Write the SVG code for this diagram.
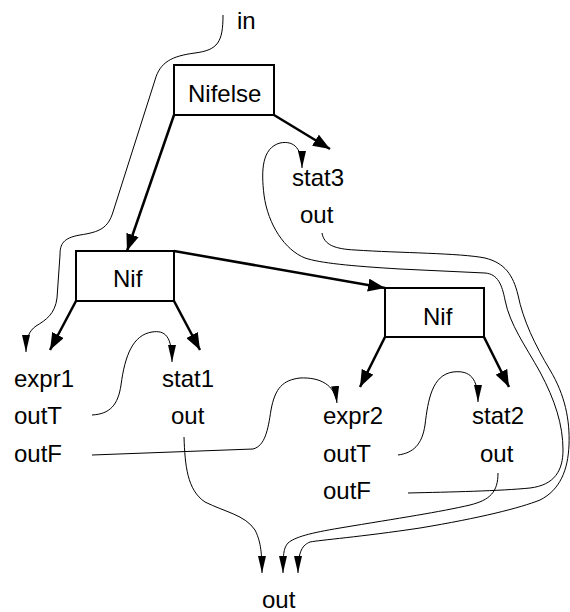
<svg xmlns="http://www.w3.org/2000/svg" width="570" height="612" viewBox="0 0 570 612">
<style>
text{font-family:"Liberation Sans",Arial,sans-serif;font-size:24px;fill:#000}
.box{fill:#fff;stroke:#000;stroke-width:2}
.bold{fill:none;stroke:#000;stroke-width:2.5;marker-end:url(#big)}
.thin{fill:none;stroke:#000;stroke-width:1}
.thinA{fill:none;stroke:#000;stroke-width:1;marker-end:url(#small)}
</style>
<defs>
<marker id="big" markerUnits="userSpaceOnUse" markerWidth="18" markerHeight="13" refX="17" refY="6.5" orient="auto" viewBox="0 0 18 13"><path d="M0,0 L17,6.5 L0,13 z" fill="#000"/></marker>
<marker id="small" markerUnits="userSpaceOnUse" markerWidth="18" markerHeight="9" refX="17" refY="4.5" orient="auto" viewBox="0 0 18 9"><path d="M0,0.5 L17,4.5 L0,8.5 z" fill="#000"/></marker>
</defs>
<rect width="570" height="612" fill="#fff"/>
<g id="connectors">
<path class="thinA" d="M223,15 C223,42 218,50 195,53 C172,56 160,62 155,80 L113,212 C108,228 100,232 80,235 C63,238 60,244 60,255 L57,298 C55,314 46,320 36,326 C29,331 26,338 26,352"/>
<path class="bold" d="M174,115 L127,251"/>
<path class="bold" d="M274,115 L330,149"/>
<path class="thinA" d="M408,493 C450,492 500,491 530,488 C555,485 563,470 563,450 C563,425 555,400 540,372 C525,345 510,325 505,300 C502,285 498,274 485,273 L400,269 C350,266 320,263 305,258 C285,250 268,225 264,195 C261,170 262,148 280,143 C295,140 302,150 302,168"/>
<path class="thinA" d="M322,233 C324,245 335,249 355,250 C400,253 460,253 485,258 C505,263 513,275 518,295 C523,320 535,345 550,370 C565,395 570,420 569,445 C568,470 560,490 540,500 C520,508 480,518 420,528 C360,537 320,540 310,542 C303,545 298,550 298,573"/>
<path class="thinA" d="M498,473 C498,492 490,500 470,505 C440,512 400,518 340,528 C310,533 295,537 288,543 C284,548 283,552 283,573"/>
<path class="thinA" d="M184,437 C185,465 187,490 205,502 C225,512 245,515 255,530 C260,540 262,550 262,573"/>
<path class="thinA" d="M92,415 C110,414 118,405 121,385 C125,355 133,335 152,332 C165,330 172,336 172,362"/>
<path class="thinA" d="M92,455 L253,449 C265,446 268,430 271,410 C275,388 283,380 300,378 C320,377 335,385 337,403"/>
<path class="bold" d="M76,301 L50,350"/>
<path class="bold" d="M174,301 L200,350"/>
<path class="bold" d="M174,251 L385,288"/>
<path class="bold" d="M385,337 L360,387"/>
<path class="bold" d="M484,337 L509,387"/>
<path class="thinA" d="M398,455 C413,453 422,445 425,425 C428,400 432,375 453,372 C470,370 478,378 478,402"/>
</g>
<g id="in"><text x="237" y="29">in</text></g>
<g id="nifelse"><rect class="box" x="174" y="65" width="100" height="50"/><text x="188" y="102">Nifelse</text></g>
<g id="stat3"><text x="292" y="186">stat3</text><text x="300" y="223">out</text></g>
<g id="nif1"><rect class="box" x="76" y="251" width="98" height="50"/><text x="113" y="287">Nif</text></g>
<g id="nif2"><rect class="box" x="385" y="288" width="99" height="49"/><text x="423" y="325">Nif</text></g>
<g id="expr1"><text x="14" y="387">expr1</text><text x="14" y="424">outT</text><text x="14" y="462">outF</text></g>
<g id="stat1"><text x="162" y="387">stat1</text><text x="171" y="424">out</text></g>
<g id="expr2"><text x="323" y="424">expr2</text><text x="323" y="462">outT</text><text x="323" y="499">outF</text></g>
<g id="stat2"><text x="472" y="424">stat2</text><text x="480" y="462">out</text></g>
<g id="out"><text x="262" y="608">out</text></g>
</svg>
